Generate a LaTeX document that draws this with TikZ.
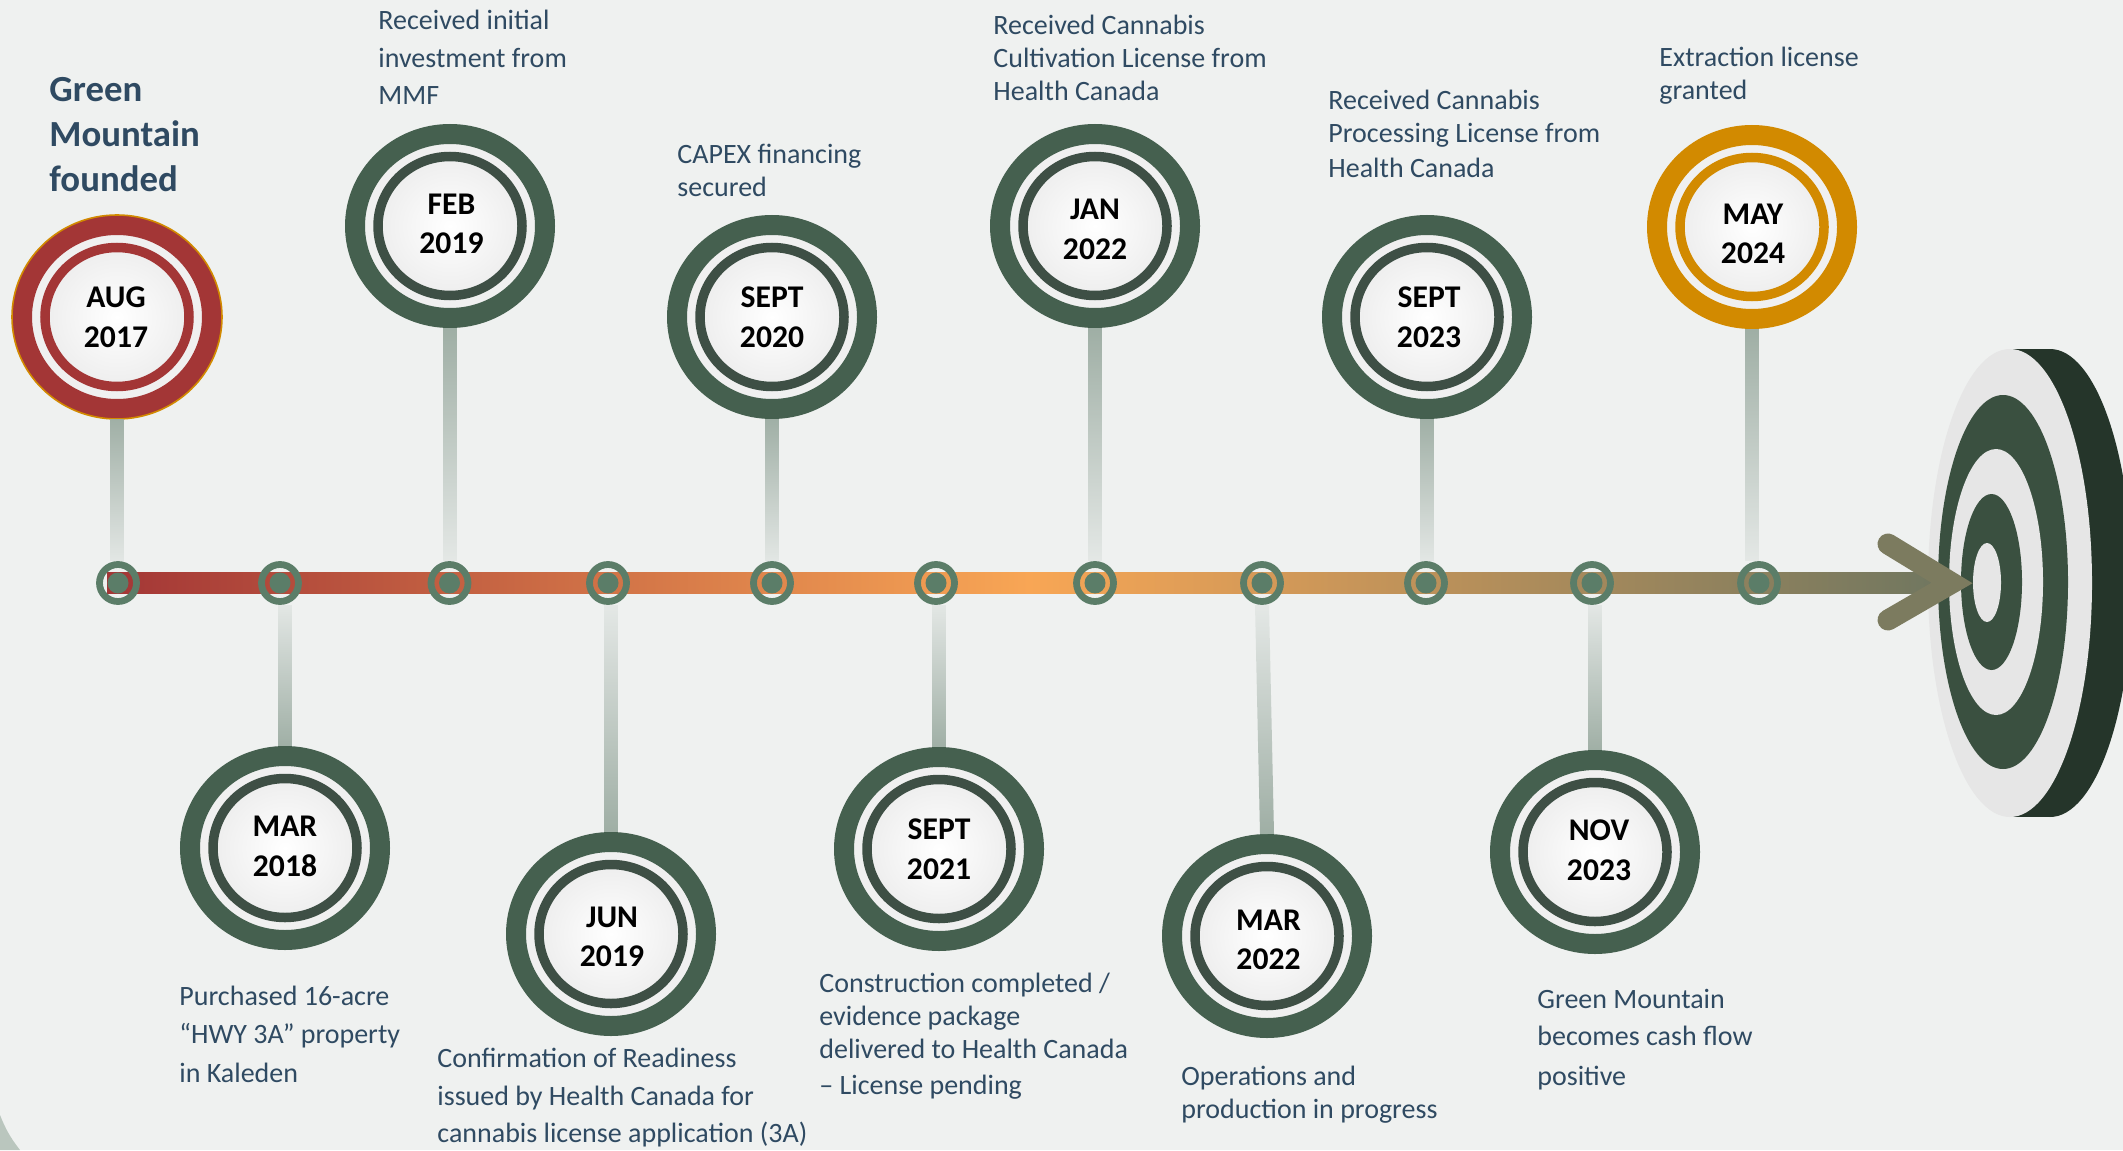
\documentclass[tikz,border=0pt]{standalone}
\usepackage{fontspec}
\setmainfont{Carlito}
\usepackage{xcolor}
\usetikzlibrary{positioning,calc,fadings,shapes.geometric}

\definecolor{bgcol}{HTML}{EFF1F0}
\definecolor{ringgreen}{HTML}{45604F}
\definecolor{ringinner}{HTML}{3E4F45}
\definecolor{ringred}{HTML}{A33636}
\definecolor{ringamber}{HTML}{D28A00}
\definecolor{ticklight}{HTML}{5B7D68}
\definecolor{stemcol}{HTML}{9DADA3}
\definecolor{bodycol}{HTML}{2F4A62}
\definecolor{boardlight}{HTML}{E6E6E6}
\definecolor{boarddark}{HTML}{3A5040}
\definecolor{boardside}{HTML}{25352A}
\definecolor{barred}{HTML}{A33636}
\definecolor{barorange}{HTML}{F8A655}
\definecolor{barolive}{HTML}{6E7660}

\tikzfading[name=stemdown, top color=transparent!0, bottom color=transparent!90]
\tikzfading[name=stemup, top color=transparent!90, bottom color=transparent!0]

\begin{document}
\begin{tikzpicture}[
    x=0.5pt, y=-0.5pt,
    outerring/.style = {ellipse, draw=#1, line width=10pt, fill=boardlight!60!white,
      minimum width=95pt, minimum height=92pt, inner sep=0pt},
    innerdisc/.style = {ellipse, draw=#1, line width=4.75pt, inner color=white, outer color=boardlight!70!white,
      minimum width=72pt, minimum height=69.5pt, inner sep=0pt},
    datetext/.style = {inner sep=0pt, align=center, font=\fontsize{15.8}{19.8}\selectfont\bfseries},
    tickring/.style = {circle, draw=ticklight, line width=3.4pt, minimum size=18.5pt, inner sep=0pt},
    tickdot/.style = {circle, fill=ticklight, minimum size=10.5pt, inner sep=0pt, outer sep=0pt},
    stem/.style = {draw=stemcol, line width=7pt},
    note/.style = {anchor=north west, inner sep=0pt, align=left, text=bodycol},
    tightnote/.style = {note, font=\fontsize{14}{16.3}\selectfont},
    loosenote/.style = {note, font=\fontsize{14}{18.6}\selectfont}
  ]
  \fill[bgcol] (0,0) rectangle (2123,1150);
  \fill[stemcol!70!white] (0,1115) to[bend right=8] (20,1150) -- (0,1150) -- cycle;

  % target
  \begin{scope}
    \clip (0,0) rectangle (2123,1150);
    \fill[boardside] (2050,583) ellipse [x radius=82, y radius=234];
    \fill[boardside] (2010,349) rectangle (2050,817);
  \end{scope}
  \fill[boardlight] (2010,583) ellipse [x radius=82, y radius=234];
  \fill[boarddark] (2003,582) ellipse [x radius=65, y radius=187];
  \fill[boardlight] (1996,582) ellipse [x radius=47, y radius=133];
  \fill[boarddark] (1991.5,582) ellipse [x radius=30.5, y radius=88];
  \fill[boardlight] (1987,582.5) ellipse [x radius=14, y radius=39.5];

  % time line
  \coordinate (linestart) at (107,583);
  \coordinate (lineend) at (1952,583);
  \coordinate (barbup) at (1888,544);
  \coordinate (barbdown) at (1888,620);
  \shade[left color=barred, right color=barolive, middle color=barorange]
    ($(linestart)+(0,-10.5)$) rectangle ($(lineend)+(0,10.5)$);
  \draw[draw=barolive!90!barorange, line width=10.5pt, line cap=round, miter limit=10]
    (barbup) -- (lineend) -- (barbdown);

  \foreach \nm/\tx in {t1/118,t2/280,t3/449.5,t4/608,t5/772,t6/936,t7/1095,t8/1262,t9/1426,t10/1592,t11/1759} {
    \node[tickring] (\nm) at (\tx,583) {};
    \node[tickdot] (\nm dot) at (\nm.center) {};
  }

  % date circles
  \foreach \nm/\pos/\col/\incol/\dx/\dy/\mon/\yr in {
      aug/{117,317}/ringred/ringred/-1/0/AUG/2017, feb/{450,226}/ringgreen/ringinner/1.5/-2/FEB/2019,
      marA/{285,848}/ringgreen/ringinner/0/-1.5/MAR/2018, jun/{611,934}/ringgreen/ringinner/1/3/JUN/2019,
      septA/{772,317}/ringgreen/ringinner/0/0/SEPT/2020, septB/{939,849}/ringgreen/ringinner/0/0/SEPT/2021,
      jan/{1095,226}/ringgreen/ringinner/0/3.5/JAN/2022, marB/{1267,936}/ringgreen/ringinner/1.5/4/MAR/2022,
      septC/{1427,317}/ringgreen/ringinner/2/0/SEPT/2023, nov/{1595,852}/ringgreen/ringinner/4/-1.5/NOV/2023,
      may/{1752,227}/ringamber/ringamber/1/7/MAY/2024} {
    \node[outerring=\col] (\nm) at (\pos) {};
    \node[innerdisc=\incol] (\nm disc) at (\nm) {};
    \node[datetext] (\nm date) at ($(\nm)+(\dx,\dy)$) {\mon\\\yr};
  }
  \node[ellipse, draw=ringamber, line width=.8pt, minimum width=105pt, minimum height=102pt, inner sep=0pt] (augedge) at (aug) {};

  % stems
  \foreach \a/\b in {aug/t1,feb/t3,septA/t5,jan/t7,septC/t9,may/t11}
    \draw[stem, path fading=stemdown] (\a.south) -- (\a.south |- \b.north);
  \foreach \b/\a in {t2/marA,t4/jun,t6/septB,t10/nov}
    \draw[stem, path fading=stemup] (\a.north |- \b.south) -- (\a.north);
  \draw[stem, path fading=stemup] (t8.south) -- (marB.north);

  % notes
  \node[note, text=bodycol, font=\fontsize{18.4}{22.5}\selectfont\bfseries] (foundtxt) at (49,77) {Green\\Mountain\\founded};
  \node[loosenote] (febtxt) at (378,10) {Received initial\\investment from\\MMF};
  \node[tightnote] (septAtxt) at (677,144) {CAPEX financing\\secured};
  \node[tightnote] (jantxt) at (993,15) {Received Cannabis\\Cultivation License from\\Health Canada};
  \node[tightnote] (septCtxt) at (1328,90) {Received Cannabis\\Processing License from\\[1.2pt]Health Canada};
  \node[tightnote] (maytxt) at (1659,47) {Extraction license\\granted};
  \node[loosenote] (marAtxt) at (179,986) {Purchased 16-acre\\“HWY 3A” property\\[1.3pt]in Kaleden};
  \node[loosenote] (juntxt) at (437,1048) {Confirmation of Readiness\\issued by Health Canada for\\cannabis license application (3A)};
  \node[tightnote] (septBtxt) at (819,973) {Construction completed /\\evidence package\\delivered to Health Canada\\[2pt]– License pending};
  \node[tightnote] (marBtxt) at (1181,1066) {Operations and\\production in progress};
  \node[loosenote] (novtxt) at (1537,989) {Green Mountain\\becomes cash flow\\[1.2pt]positive};
\end{tikzpicture}
\end{document}
